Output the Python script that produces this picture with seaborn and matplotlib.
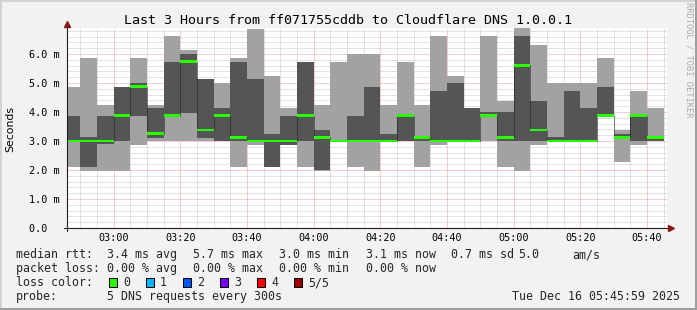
import matplotlib
matplotlib.use("Agg")
import matplotlib.pyplot as plt
from matplotlib.patches import Rectangle
from matplotlib.lines import Line2D
import numpy as np
import pandas as pd
import seaborn as sns

# ---------------- data ----------------
slot_start = ["02:45", "02:50", "02:55", "03:00", "03:05", "03:10", "03:15", "03:20", "03:25",
              "03:30", "03:35", "03:40", "03:45", "03:50", "03:55", "04:00", "04:05", "04:10",
              "04:15", "04:20", "04:25", "04:30", "04:35", "04:40", "04:45", "04:50", "04:55",
              "05:00", "05:05", "05:10", "05:15", "05:20", "05:25", "05:30", "05:35", "05:40"]
ping_min = [2.10, 1.98, 1.98, 1.98, 2.86, 2.99, 2.99, 2.99, 2.99,
            2.99, 2.10, 2.86, 2.10, 2.87, 2.10, 1.98, 2.97, 2.10,
            1.98, 2.99, 2.99, 2.10, 2.87, 2.99, 2.99, 2.99, 2.10,
            1.98, 2.86, 2.99, 2.99, 2.99, 3.85, 2.26, 2.86, 2.99]
ping_lo = [2.98, 2.11, 2.88, 2.99, 3.87, 3.09, 3.86, 3.98, 3.11,
           2.99, 2.99, 2.99, 2.10, 2.87, 2.99, 2.00, 2.98, 2.99,
           2.99, 2.99, 2.99, 2.99, 2.99, 2.99, 2.99, 3.86, 2.99,
           2.99, 2.99, 2.99, 2.99, 2.99, 3.86, 3.10, 2.99, 3.00]
median_rtt = [3.00, 3.00, 3.00, 3.87, 4.87, 3.25, 3.87, 5.74, 3.38,
              3.87, 3.13, 3.00, 3.00, 3.00, 3.87, 3.13, 3.00, 3.00,
              3.00, 3.00, 3.87, 3.12, 3.00, 3.00, 3.00, 3.87, 3.13,
              5.61, 3.38, 3.00, 3.00, 3.00, 3.87, 3.13, 3.87, 3.13]
ping_hi = [3.86, 3.14, 3.86, 4.86, 4.99, 4.14, 5.74, 6.00, 5.14,
           4.14, 5.74, 5.14, 3.24, 3.86, 5.74, 3.38, 3.05, 3.86,
           4.86, 3.24, 3.87, 3.14, 4.74, 4.99, 4.14, 3.99, 3.99,
           6.62, 4.38, 3.13, 4.74, 4.14, 4.86, 3.24, 3.87, 3.13]
ping_max = [4.86, 5.86, 4.24, 4.86, 5.86, 4.24, 6.62, 6.14, 5.14,
            4.99, 5.86, 6.86, 5.24, 4.14, 5.74, 4.24, 5.74, 6.00,
            6.00, 4.24, 5.74, 4.24, 6.62, 5.24, 4.14, 6.62, 4.38,
            6.89, 6.31, 4.99, 4.99, 4.99, 5.86, 3.38, 4.74, 4.14]

x_tick_labels = ["03:00", "03:20", "03:40", "04:00", "04:20", "04:40", "05:00", "05:20", "05:40"]
y_tick_values = [0, 1, 2, 3, 4, 5, 6]
y_tick_labels = ["0.0  ", "1.0 m", "2.0 m", "3.0 m", "4.0 m", "5.0 m", "6.0 m"]

title = "Last 3 Hours from ff071755cddb to Cloudflare DNS 1.0.0.1"
stats_rtt = [("median rtt:", 16), ("3.4 ms avg", 107), ("5.7 ms max", 193), ("3.0 ms min", 279),
             ("3.1 ms now", 365.5), ("0.7 ms sd", 451), ("5.0", 518), ("am/s", 572.5)]
stats_loss = [("packet loss:", 16), ("0.00 % avg", 107), ("0.00 % max", 193),
              ("0.00 % min", 279), ("0.00 % now", 365.5)]
loss_labels = ["0", "1", "2", "3", "4", "5/5"]
loss_colors = ["#26ff00", "#00b8ff", "#0059ff", "#7e00ff", "#ff0000", "#a00000"]
probe_text = "5 DNS requests every 300s"
stamp_text = "Tue Dec 16 05:45:59 2025"
end_clock = "05:45:59"
span_minutes = 180
step_minutes = 5

# ---------------- helpers ----------------
W, H = 697, 310


def to_min(s):
    parts = [int(p) for p in s.split(":")]
    return parts[0] * 60 + parts[1] + (parts[2] / 60 if len(parts) > 2 else 0)


def fx(px):
    return px / W


def fy(py):
    return 1 - py / H


sns.set_theme(style="white")
plt.rcParams["font.family"] = ["DejaVu Sans Mono", "DejaVu Sans"]
plt.rcParams["axes.unicode_minus"] = False

df = pd.DataFrame({
    "t": [to_min(s) for s in slot_start],
    "pmin": ping_min, "plo": ping_lo, "med": median_rtt, "phi": ping_hi, "pmax": ping_max,
})
t_end = to_min(end_clock)
t_start = t_end - span_minutes

fig = plt.figure(figsize=(W / 100, H / 100), dpi=100)
fig.patch.set_facecolor("#f2f2f2")

ax = fig.add_axes([fx(67), fy(228), 600 / W, 200 / H])
ax.set_facecolor("white")
ax.set_xlim(t_start, t_end)
ax.set_ylim(0, 200 / 29)
for sp in ax.spines.values():
    sp.set_visible(False)

# smoke
ax.bar(df["t"], df["pmax"] - df["pmin"], bottom=df["pmin"], width=step_minutes, align="edge",
       color="#a2a2a2", linewidth=0, zorder=2)
ax.bar(df["t"], df["phi"] - df["plo"], bottom=df["plo"], width=step_minutes, align="edge",
       color="#555555", linewidth=0, zorder=3)

# median step line (dark connectors)
step_x = list(df["t"]) + [df["t"].iloc[-1] + step_minutes]
step_y = list(df["med"]) + [df["med"].iloc[-1]]
sns.lineplot(x=step_x, y=step_y, ax=ax, drawstyle="steps-post", color="#1a1a1a",
             linewidth=0.72, linestyle=(0, (1, 1)), estimator=None, sort=False, zorder=4)

# green median bands (loss 0)
band = 0.09
ax.bar(df["t"], band, bottom=df["med"] - band / 2, width=step_minutes, align="edge",
       color=loss_colors[0], linewidth=0, zorder=5)

# grid / ticks
major_x = [to_min(s) for s in x_tick_labels]
ax.set_xticks(major_x)
ax.set_xticklabels(x_tick_labels)
ax.set_xticks(np.arange(to_min("02:50"), t_end, step_minutes), minor=True)
ax.set_yticks(y_tick_values)
ax.set_yticklabels(y_tick_labels)
ax.set_yticks(np.arange(0, 6.9, 0.2), minor=True)
ax.grid(which="minor", color="#c6c6c6", linewidth=0.72, linestyle=(0, (1, 1)), zorder=1)
ax.grid(which="major", color="#f09a9a", linewidth=0.72, linestyle=(0, (1, 1)), zorder=1)
ax.set_axisbelow(True)
ax.tick_params(axis="both", which="both", length=0)
ax.tick_params(axis="x", which="major", pad=3.4, labelsize=7.3, labelcolor="#000000")
ax.tick_params(axis="y", which="major", pad=5.0, labelsize=7.3, labelcolor="#000000")
for lab in ax.get_xticklabels() + ax.get_yticklabels():
    lab.set_family("DejaVu Sans Mono")

# axes lines and arrows
ax.plot([0, 0], [-3 / 200, (228 - 25) / 200], transform=ax.transAxes, color="#202020",
        lw=0.8, clip_on=False, zorder=6)
ax.plot([-3 / 600, 1.0017], [0, 0], transform=ax.transAxes, color="#202020",
        lw=0.8, clip_on=False, zorder=6)
ax.plot([0], [(228 - 24.2) / 200], transform=ax.transAxes, marker="^", ms=4.0,
        color="#8b1515", clip_on=False, zorder=7, linestyle="none")
ax.plot([(670.5 - 67) / 600], [0], transform=ax.transAxes, marker=">", ms=4.0,
        color="#8b1515", clip_on=False, zorder=7, linestyle="none")

# texts
mono = "DejaVu Sans Mono"
fig.text(fx(348), fy(24), title, ha="center", va="baseline", fontsize=9.6, family=mono,
         color="#000000")
fig.text(fx(10.5), fy(128.5), "Seconds", rotation=90, ha="center", va="center",
         fontsize=7.8, family="DejaVu Sans", color="#000000")
fig.text(fx(688.5), fy(60), "RRDTOOL / TOBI OETIKER", rotation=270, ha="center",
         va="center", fontsize=6.3, family=mono, color="#ababab")

fs = 8.4
for txt, xp in stats_rtt:
    fig.text(fx(xp), fy(258.3), txt, ha="left", va="baseline", fontsize=fs, family=mono)
for txt, xp in stats_loss:
    fig.text(fx(xp), fy(272.3), txt, ha="left", va="baseline", fontsize=fs, family=mono)
fig.text(fx(16), fy(286.1), "loss color:", ha="left", va="baseline", fontsize=fs, family=mono)
for i, (lab, col) in enumerate(zip(loss_labels, loss_colors)):
    bx = 108.5 + 37 * i
    fig.add_artist(Rectangle((fx(bx), fy(286.5)), 8.5 / W, 9 / H, transform=fig.transFigure,
                             facecolor=col, edgecolor="#000000", linewidth=0.75))
    fig.text(fx(bx + 14.5), fy(286.1), lab, ha="left", va="baseline", fontsize=fs, family=mono)
fig.text(fx(16), fy(300), "probe:", ha="left", va="baseline", fontsize=fs, family=mono)
fig.text(fx(107), fy(300), probe_text, ha="left", va="baseline", fontsize=fs, family=mono)
fig.text(fx(680.5), fy(300), stamp_text, ha="right", va="baseline", fontsize=fs, family=mono)

# outer shaded frame
fig.add_artist(Line2D([0, 1], [fy(1), fy(1)], transform=fig.transFigure, color="#d2d2d2", lw=1.44))
fig.add_artist(Line2D([fx(1), fx(1)], [0, 1], transform=fig.transFigure, color="#d2d2d2", lw=1.44))
fig.add_artist(Line2D([0, 1], [fy(H - 1), fy(H - 1)], transform=fig.transFigure, color="#9e9e9e", lw=1.44))
fig.add_artist(Line2D([fx(W - 1), fx(W - 1)], [0, 1], transform=fig.transFigure, color="#9e9e9e", lw=1.44))

fig.savefig("out.png", dpi=100, facecolor=fig.get_facecolor())
